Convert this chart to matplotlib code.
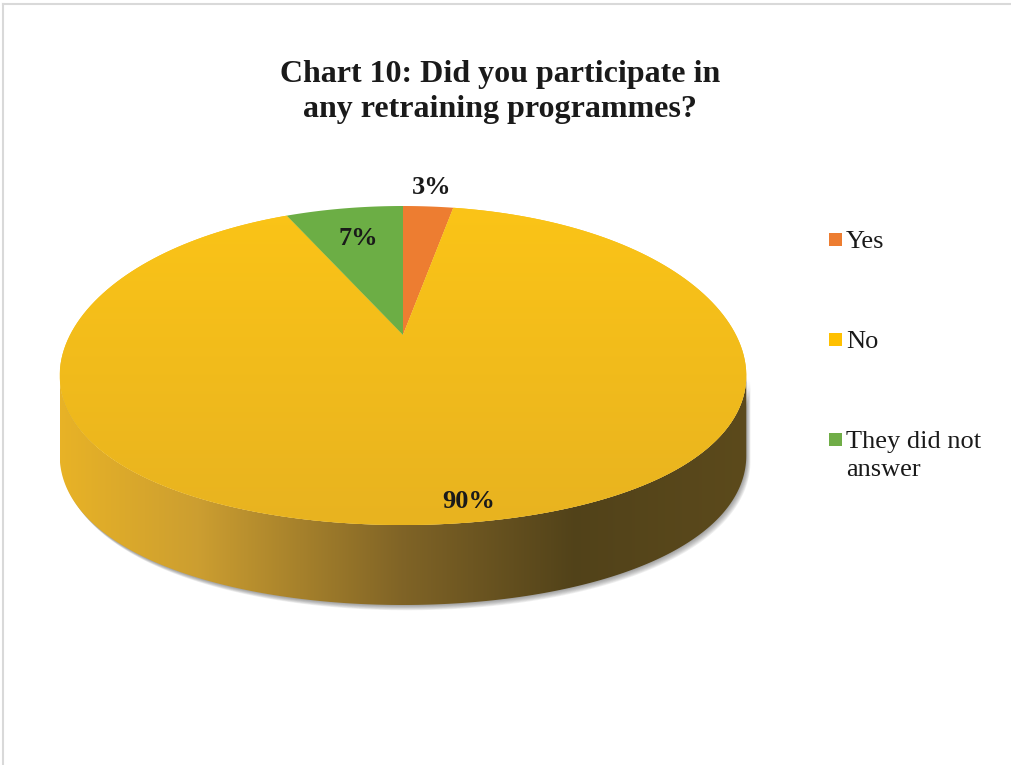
import numpy as np
import matplotlib
matplotlib.use("Agg")
import matplotlib.pyplot as plt
from matplotlib.patches import Polygon, Rectangle
from matplotlib.colors import LinearSegmentedColormap

# survey answers
labels = ["Yes", "No", "They did not\nanswer"]
values = [3, 90, 7]
colors = ["#ED7D31", "#F8C015", "#6CAE45"]
legend_colors = ["#ED7D31", "#FFC000", "#70AD47"]
title = "Chart 10: Did you participate in\nany retraining programmes?"

# 3-D pie geometry (pixel space)
CX, CY = 403, 335
A, B = 333, 159.5
PERSP, BULGE = 0.243, 30.5
DEPTH = 80


def project(u, v):
    # unit-circle point -> tilted disc on screen
    x = CX + A * u / (1 + PERSP * v)
    y = CY - B * v + BULGE * v ** 2
    return x, y


def arc(t1, t2, r=1.0, n=200):
    t = np.radians(np.linspace(t1, t2, n))
    return project(r * np.cos(t), r * np.sin(t))


fig = plt.figure(figsize=(10.11, 7.65), dpi=100)
ax = fig.add_axes([0, 0, 1, 1])
ax.set_xlim(0, 1011)
ax.set_ylim(765, 0)
ax.axis("off")

# frame lines
ax.plot([3, 3], [765, 4], color="#d9d9d9", lw=1.5)
ax.plot([3, 1011], [4, 4], color="#d9d9d9", lw=1.5)

# outline of the top face, then the wall below its front half
ox, oy = arc(0, 360, n=721)
i_left, i_right = np.argmin(ox), np.argmax(ox)
idx = np.arange(i_left, i_right + 1) if i_left < i_right else np.r_[i_left:721, 0:i_right + 1]
fx, fy = ox[idx], oy[idx]
wall_xy = np.r_[np.c_[fx, fy], np.c_[fx[::-1], fy[::-1] + DEPTH]]

# soft drop shadow behind the wall
for k in range(1, 8):
    sh = wall_xy + np.array([k * 0.6, k * 0.75])
    ax.add_patch(Polygon(sh, closed=True, facecolor="0.3", edgecolor="none",
                         alpha=0.09, zorder=1))

wall = Polygon(wall_xy, closed=True, facecolor="none", edgecolor="none")
ax.add_patch(wall)
wall_cmap = LinearSegmentedColormap.from_list("wall", [
    (0.0, (0.91, 0.70, 0.15)),
    (0.2, (0.80, 0.62, 0.19)),
    (0.5, (0.50, 0.39, 0.15)),
    (0.75, (0.32, 0.26, 0.10)),
    (1.0, (0.36, 0.29, 0.11)),
])
grad = np.linspace(0, 1, 256)[None, :]
im = ax.imshow(grad, cmap=wall_cmap, aspect="auto",
               extent=(fx.min(), fx.max(), fy.max() + DEPTH, fy.min()), zorder=2)
im.set_clip_path(wall)

# top face slices, clockwise from 12 o'clock
start = 90.0
mids = []
for val, col in zip(values, colors):
    sweep = 360.0 * val / sum(values)
    xs, ys = arc(start - sweep, start)
    verts = np.r_[[[CX, CY]], np.c_[xs, ys]]
    patch = Polygon(verts, closed=True, facecolor=col, edgecolor="none", zorder=3)
    ax.add_patch(patch)
    if col == colors[1]:
        # slight shading toward the front rim
        ycmap = LinearSegmentedColormap.from_list("top", ["#FBC417", "#E8B320"])
        top_im = ax.imshow(np.linspace(0, 1, 256)[:, None], cmap=ycmap, aspect="auto",
                           extent=(ox.min(), ox.max(), oy.max(), oy.min()), zorder=3)
        top_im.set_clip_path(patch)
    mids.append(start - sweep / 2)
    start -= sweep

# percentage labels
label_r = [1.2, 0.9, 0.7]
label_nudge = [(0, 0), (18, 0), (-1, -2)]
for val, mid, r, (dx, dy) in zip(values, mids, label_r, label_nudge):
    t = np.radians(mid)
    lx, ly = project(r * np.cos(t), r * np.sin(t))
    ax.text(lx + dx, ly + dy, f"{val}%", ha="center", va="center", fontsize=19,
            fontweight="bold", family="Liberation Serif", color="#1a1a1a", zorder=5)

# title
ax.text(500, 92, title, ha="center", va="center", fontsize=23, fontweight="bold",
        family="Liberation Serif", color="#1a1a1a", linespacing=1.3)

# legend
legend_y = [240, 340, 440]
for lab, col, y in zip(labels, legend_colors, legend_y):
    ax.add_patch(Rectangle((829, y - 7), 13, 13, facecolor=col, edgecolor="none"))
    ax.text(846, y - 9, lab, ha="left", va="top", fontsize=19,
            family="Liberation Serif", color="#1a1a1a", linespacing=1.35)

fig.savefig("out.png", dpi=100)
